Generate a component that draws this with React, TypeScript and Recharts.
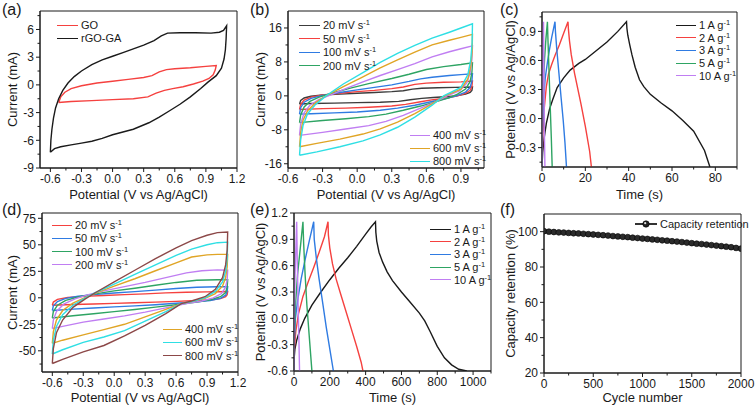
import React from "react";
import { LineChart, Line, XAxis, YAxis, ReferenceArea } from "recharts";

const FONT = '"Liberation Sans", Arial, Helvetica, sans-serif';
const INK = "#1a1a1a";

type Pt = [number, number];

// colours (Origin-like palette)
const C_BLACK = "#1a1a1a";
const C_GRAY = "#3c3c3c";
const C_RED = "#f5413f";
const C_BLUE = "#2f7be2";
const C_GREEN = "#2ea463";
const C_PURPLE = "#c07ef2";
const C_GOLD = "#e0a526";
const C_CYAN = "#2fdfe4";
const C_BROWN = "#8c4848";

// ---------- (a) CV of GO and rGO-GA ----------
const aGO: Pt[] = [
  [-0.52, -1.9], [-0.5, -1.3], [-0.46, -0.8], [-0.4, -0.4], [-0.3, -0.1], [-0.15, 0.2], [0.0, 0.4],
  [0.15, 0.6], [0.3, 0.8], [0.38, 1.0], [0.45, 1.4], [0.52, 1.65], [0.6, 1.75], [0.75, 1.85], [0.9, 2.0],
  [1.0, 2.1], [0.99, 1.6], [0.97, 1.1], [0.93, 0.7], [0.87, 0.4], [0.78, 0.1], [0.68, -0.2], [0.58, -0.4],
  [0.5, -0.6], [0.42, -0.9], [0.34, -1.3], [0.2, -1.5], [0.0, -1.6], [-0.2, -1.7], [-0.4, -1.8], [-0.52, -1.9],
];
const aRGO: Pt[] = [
  [-0.6, -7.3], [-0.595, -6.0], [-0.585, -4.8], [-0.57, -3.6], [-0.55, -2.5], [-0.52, -1.5], [-0.48, -0.6],
  [-0.43, 0.2], [-0.37, 0.9], [-0.3, 1.5], [-0.2, 2.2], [-0.1, 2.7], [0.0, 3.1], [0.1, 3.5], [0.2, 3.9],
  [0.3, 4.3], [0.4, 4.8], [0.47, 5.3], [0.53, 5.6], [0.65, 5.65], [0.8, 5.65], [0.95, 5.6], [1.03, 5.7],
  [1.07, 5.9], [1.1, 6.4], [1.095, 5.0], [1.088, 3.8], [1.075, 2.8], [1.05, 1.8], [1.0, 1.0], [0.92, 0.3],
  [0.85, -0.4], [0.75, -1.3], [0.65, -2.1], [0.55, -2.8], [0.45, -3.5], [0.35, -4.1], [0.2, -4.8],
  [0.1, -5.1], [0.0, -5.4], [-0.1, -5.8], [-0.2, -6.1], [-0.3, -6.3], [-0.4, -6.5], [-0.5, -6.7],
  [-0.56, -6.9], [-0.6, -7.3],
];

// ---------- (b) CV at different scan rates ----------
const b20: Pt[] = [
  [-0.5, -1.9], [-0.49, -1.1], [-0.46, -0.5], [-0.4, -0.1], [-0.3, 0.2], [-0.15, 0.4], [0.0, 0.6], [0.15, 0.8],
  [0.3, 1.0], [0.4, 1.2], [0.48, 1.6], [0.56, 1.8], [0.7, 1.9], [0.85, 2.0], [1.0, 2.1], [0.995, 1.3],
  [0.98, 0.8], [0.94, 0.4], [0.86, 0.0], [0.76, -0.2], [0.66, -0.4], [0.56, -0.6], [0.46, -0.9], [0.36, -1.3],
  [0.2, -1.5], [0.0, -1.6], [-0.2, -1.7], [-0.4, -1.8], [-0.5, -1.9],
];
const b50: Pt[] = [
  [-0.5, -3.2], [-0.49, -2.0], [-0.46, -1.0], [-0.4, -0.3], [-0.3, 0.2], [-0.15, 0.6], [0.0, 1.0], [0.15, 1.3],
  [0.3, 1.7], [0.4, 2.1], [0.5, 2.7], [0.6, 3.0], [0.75, 3.2], [0.9, 3.3], [1.0, 3.5], [0.995, 2.2],
  [0.98, 1.3], [0.94, 0.6], [0.87, 0.0], [0.78, -0.5], [0.66, -0.9], [0.55, -1.4], [0.42, -2.0], [0.3, -2.4],
  [0.1, -2.7], [-0.1, -2.9], [-0.3, -3.0], [-0.5, -3.2],
];
const b100: Pt[] = [
  [-0.5, -4.3], [-0.49, -2.8], [-0.46, -1.5], [-0.4, -0.6], [-0.3, 0.1], [-0.15, 0.8], [0.0, 1.4], [0.15, 2.0],
  [0.3, 2.6], [0.45, 3.4], [0.55, 4.0], [0.65, 4.4], [0.8, 4.8], [0.9, 5.0], [1.0, 5.2], [0.995, 3.5],
  [0.98, 2.0], [0.94, 0.9], [0.86, 0.0], [0.76, -0.7], [0.64, -1.4], [0.5, -2.2], [0.35, -2.9], [0.2, -3.4],
  [0.0, -3.8], [-0.2, -4.0], [-0.4, -4.2], [-0.5, -4.3],
];
const b200: Pt[] = [
  [-0.5, -6.3], [-0.49, -4.5], [-0.46, -2.6], [-0.41, -1.3], [-0.33, -0.3], [-0.2, 0.8], [-0.05, 1.9],
  [0.1, 2.9], [0.3, 4.1], [0.45, 5.1], [0.6, 6.2], [0.75, 6.9], [0.9, 7.4], [1.0, 7.8], [0.995, 5.5],
  [0.98, 3.4], [0.94, 1.6], [0.87, 0.4], [0.8, -0.4], [0.68, -1.4], [0.55, -2.4], [0.4, -3.4], [0.25, -4.3],
  [0.1, -4.9], [-0.1, -5.4], [-0.3, -5.8], [-0.5, -6.3],
];
const b400: Pt[] = [
  [-0.5, -9.3], [-0.49, -6.6], [-0.46, -4.0], [-0.41, -2.2], [-0.33, -0.8], [-0.25, 0.0], [-0.1, 1.7],
  [0.05, 3.3], [0.2, 4.8], [0.35, 6.2], [0.5, 7.6], [0.65, 9.2], [0.8, 10.4], [0.9, 11.1], [1.0, 11.8],
  [0.995, 8.5], [0.98, 5.5], [0.95, 3.0], [0.89, 1.2], [0.78, 0.0], [0.68, -1.4], [0.55, -2.9], [0.4, -4.6],
  [0.25, -6.0], [0.1, -7.0], [-0.1, -7.8], [-0.3, -8.6], [-0.5, -9.3],
];
const b600: Pt[] = [
  [-0.5, -12.0], [-0.49, -8.6], [-0.47, -5.8], [-0.43, -3.5], [-0.36, -1.6], [-0.27, 0.0], [-0.12, 2.2],
  [0.05, 4.5], [0.2, 6.6], [0.35, 8.5], [0.5, 10.3], [0.65, 12.0], [0.8, 13.1], [0.9, 13.8], [1.0, 14.5],
  [0.997, 10.5], [0.985, 7.0], [0.96, 4.0], [0.9, 1.6], [0.76, 0.0], [0.65, -1.9], [0.5, -4.2], [0.35, -6.2],
  [0.2, -7.8], [0.05, -9.0], [-0.15, -10.2], [-0.35, -11.2], [-0.5, -12.0],
];
const b800: Pt[] = [
  [-0.5, -14.0], [-0.49, -10.3], [-0.47, -7.0], [-0.43, -4.2], [-0.36, -2.0], [-0.27, 0.0], [-0.12, 2.8],
  [0.05, 5.5], [0.2, 7.9], [0.35, 10.0], [0.5, 11.9], [0.65, 13.6], [0.8, 15.0], [0.9, 16.0], [1.0, 17.0],
  [0.997, 12.5], [0.985, 8.5], [0.96, 5.0], [0.9, 2.0], [0.75, 0.0], [0.65, -2.2], [0.5, -5.0], [0.35, -7.4],
  [0.2, -9.2], [0.05, -10.6], [-0.15, -12.0], [-0.35, -13.2], [-0.5, -14.0],
];

// ---------- (c) GCD at different current densities ----------
const c1: Pt[] = [
  [0, -0.5], [0.3, -0.35], [1, -0.2], [2, -0.05], [3.5, 0.1], [5, 0.2], [7, 0.32], [10, 0.42], [13, 0.5],
  [17, 0.57], [20, 0.61], [25, 0.7], [30, 0.79], [35, 0.9], [39, 1.0], [39.2, 0.93], [39.6, 0.86],
  [40.5, 0.76], [41.5, 0.66], [43, 0.53], [45, 0.4], [47, 0.33], [50, 0.25], [55, 0.16], [60, 0.08],
  [65, -0.02], [70, -0.13], [75, -0.33], [77.5, -0.5],
];
const c2: Pt[] = [
  [0, -0.5], [0.3, -0.2], [1, 0.1], [2, 0.33], [3, 0.46], [4.5, 0.56], [6, 0.65], [8, 0.76], [10, 0.88],
  [12, 1.0], [12.2, 0.92], [12.7, 0.8], [13.5, 0.66], [15, 0.47], [16.5, 0.31], [18, 0.15], [20, -0.08],
  [22, -0.34], [22.8, -0.5],
];
const c3: Pt[] = [
  [0, -0.5], [0.2, -0.15], [0.7, 0.2], [1.5, 0.42], [2.5, 0.58], [3.5, 0.72], [4.5, 0.84], [6, 1.0],
  [6.2, 0.9], [6.8, 0.72], [7.8, 0.47], [8.8, 0.22], [9.8, -0.02], [10.6, -0.25], [11.3, -0.5],
];
const c5: Pt[] = [
  [0, -0.5], [0.2, 0.0], [0.6, 0.35], [1.2, 0.62], [1.8, 0.82], [2.5, 1.0], [2.8, 0.78], [3.3, 0.45],
  [3.8, 0.12], [4.3, -0.2], [4.7, -0.5],
];
const c10: Pt[] = [
  [0, -0.5], [0.1, 0.0], [0.25, 0.45], [0.45, 0.8], [0.7, 1.0], [0.85, 0.6], [1.0, 0.15], [1.15, -0.2],
  [1.35, -0.5],
];

// ---------- (d) CV at different scan rates ----------
const d20: Pt[] = [
  [-0.6, -7], [-0.59, -4], [-0.55, -1.5], [-0.45, 0.3], [-0.3, 1.3], [-0.1, 2.2], [0.1, 3], [0.3, 3.7],
  [0.5, 4.6], [0.7, 5.3], [0.9, 5.6], [1.1, 6], [1.095, 3], [1.08, 1], [1.03, -0.8], [0.95, -1.8],
  [0.8, -2.6], [0.6, -3.4], [0.4, -4.1], [0.2, -4.7], [0, -5.3], [-0.2, -5.8], [-0.4, -6.3], [-0.6, -7],
];
const d50: Pt[] = [
  [-0.6, -12], [-0.59, -7.5], [-0.55, -3.5], [-0.47, -0.5], [-0.35, 1.5], [-0.2, 3], [0, 4.5], [0.2, 5.8],
  [0.4, 7.2], [0.6, 8.8], [0.8, 10], [1.0, 10.4], [1.1, 10.5], [1.095, 6], [1.08, 2.5], [1.03, -0.5],
  [0.93, -2.5], [0.78, -4], [0.6, -5.2], [0.4, -6.5], [0.2, -7.6], [0, -8.6], [-0.2, -9.6], [-0.4, -10.7],
  [-0.6, -12],
];
const d100: Pt[] = [
  [-0.6, -19], [-0.59, -13], [-0.55, -7], [-0.47, -2.5], [-0.35, 0.8], [-0.2, 3.5], [0, 6.5], [0.2, 9],
  [0.4, 11.8], [0.6, 14.5], [0.8, 16.5], [1.0, 17], [1.1, 17], [1.095, 10], [1.08, 5], [1.03, 1],
  [0.93, -2], [0.8, -4], [0.6, -6.5], [0.4, -8.8], [0.2, -11], [0, -13], [-0.2, -15], [-0.4, -17],
  [-0.6, -19],
];
const d200: Pt[] = [
  [-0.6, -29], [-0.59, -21], [-0.56, -13], [-0.49, -6], [-0.38, -1], [-0.25, 3], [-0.1, 6.5], [0.1, 10.5],
  [0.3, 14.5], [0.5, 19], [0.7, 23.5], [0.85, 25.5], [1.0, 26.3], [1.1, 26], [1.095, 17], [1.08, 10],
  [1.04, 4], [0.96, 0], [0.85, -3], [0.7, -5.5], [0.5, -9.5], [0.3, -13.5], [0.1, -17], [-0.1, -20],
  [-0.3, -23], [-0.5, -27], [-0.6, -29],
];
const d400: Pt[] = [
  [-0.6, -43], [-0.59, -32], [-0.56, -21], [-0.5, -12], [-0.4, -5], [-0.28, 0.5], [-0.18, 4.5], [0, 11],
  [0.2, 18], [0.4, 25.5], [0.6, 33], [0.75, 38.5], [0.9, 40.5], [1.0, 41], [1.1, 41], [1.095, 29],
  [1.08, 19], [1.05, 11], [0.98, 4], [0.88, -0.5], [0.75, -3.5], [0.65, -5.5], [0.5, -11], [0.3, -18],
  [0.1, -25], [-0.1, -30], [-0.3, -35], [-0.5, -40], [-0.6, -43],
];
const d600: Pt[] = [
  [-0.6, -53], [-0.59, -40], [-0.56, -27], [-0.5, -16], [-0.4, -7], [-0.28, 0], [-0.18, 5], [0, 13],
  [0.2, 22], [0.4, 31], [0.6, 40], [0.75, 46], [0.9, 50], [1.0, 52], [1.1, 52.5], [1.095, 37], [1.08, 25],
  [1.05, 15], [0.98, 6], [0.88, 0], [0.75, -3.5], [0.65, -5.5], [0.5, -13], [0.3, -22], [0.1, -31],
  [-0.1, -37], [-0.3, -42], [-0.5, -49], [-0.6, -53],
];
const d800: Pt[] = [
  [-0.6, -62], [-0.59, -48], [-0.56, -33], [-0.5, -21], [-0.4, -9], [-0.28, -1], [-0.18, 5], [0, 15],
  [0.2, 26], [0.4, 37], [0.6, 47], [0.75, 54], [0.9, 59], [1.0, 61.5], [1.1, 62], [1.095, 45], [1.08, 31],
  [1.05, 19], [0.98, 8], [0.88, 1], [0.75, -3], [0.65, -5.5], [0.5, -15], [0.3, -26], [0.1, -36],
  [-0.1, -45], [-0.3, -51], [-0.5, -58], [-0.6, -62],
];

// ---------- (e) GCD at different current densities ----------
const e1: Pt[] = [
  [0, -0.6], [1, -0.45], [5, -0.35], [15, -0.25], [35, -0.12], [60, 0.0], [100, 0.15], [150, 0.3],
  [200, 0.44], [250, 0.57], [300, 0.69], [350, 0.82], [400, 0.96], [430, 1.04], [455, 1.1], [457, 0.98],
  [462, 0.88], [475, 0.75], [495, 0.64], [520, 0.53], [550, 0.43], [600, 0.3], [650, 0.18], [700, 0.06],
  [730, -0.03], [760, -0.15], [800, -0.32], [840, -0.45], [880, -0.53], [920, -0.58], [965, -0.6],
];
const e2: Pt[] = [
  [0, -0.6], [2, -0.35], [10, -0.15], [25, 0.05], [50, 0.25], [80, 0.42], [110, 0.58], [140, 0.75],
  [170, 0.93], [190, 1.1], [192, 0.95], [200, 0.8], [215, 0.62], [235, 0.45], [260, 0.28], [290, 0.08],
  [320, -0.12], [350, -0.32], [375, -0.5], [385, -0.6],
];
const e3: Pt[] = [
  [0, -0.6], [2, -0.25], [8, 0.0], [20, 0.2], [40, 0.45], [60, 0.65], [85, 0.88], [110, 1.1], [113, 0.9],
  [125, 0.68], [140, 0.45], [160, 0.18], [180, -0.1], [200, -0.35], [220, -0.6],
];
const e5: Pt[] = [
  [0, -0.6], [2, -0.2], [8, 0.15], [20, 0.5], [35, 0.8], [50, 1.1], [54, 0.85], [62, 0.5], [72, 0.15],
  [85, -0.2], [100, -0.6],
];
const e10: Pt[] = [
  [0, -0.6], [2, 0.0], [6, 0.5], [15, 1.1], [18, 0.7], [23, 0.15], [27, -0.2], [31, -0.6],
];

// ---------- (f) cycling stability ----------
const fCycles = [
  0, 50, 100, 150, 200, 250, 300, 350, 400, 450, 500, 550, 600, 650, 700, 750, 800, 850, 900, 950, 1000,
  1050, 1100, 1150, 1200, 1250, 1300, 1350, 1400, 1450, 1500, 1550, 1600, 1650, 1700, 1750, 1800, 1850,
  1900, 1950, 2000,
];
const fRetention = [
  100.3, 100.0, 99.8, 99.6, 99.5, 99.3, 99.1, 99.0, 98.8, 98.6, 98.4, 98.2, 98.0, 97.8, 97.5, 97.3, 97.1,
  96.9, 96.6, 96.4, 96.1, 95.9, 95.6, 95.4, 95.1, 94.9, 94.6, 94.4, 94.1, 93.8, 93.5, 93.2, 93.0, 92.7,
  92.4, 92.1, 91.8, 91.5, 91.2, 90.8, 90.4,
];

// ---------- axis ticks ----------
const potMajA = [-0.6, -0.3, 0, 0.3, 0.6, 0.9, 1.2];
const potMinA = [-0.45, -0.15, 0.15, 0.45, 0.75, 1.05];
const curMajA = [-9, -6, -3, 0, 3, 6];
const curMinA = [-7.5, -4.5, -1.5, 1.5, 4.5, 7.5];
const potMajB = [-0.6, -0.3, 0, 0.3, 0.6, 0.9];
const curMajB = [-16, -8, 0, 8, 16];
const curMinB = [-12, -4, 4, 12];
const timeMajC = [0, 20, 40, 60, 80];
const timeMinC = [10, 30, 50, 70, 90];
const potMajC = [-0.3, 0, 0.3, 0.6, 0.9];
const potMinC = [-0.45, -0.15, 0.15, 0.45, 0.75, 1.05];
const curMajD = [-50, -25, 0, 25, 50, 75];
const curMinD = [-62.5, -37.5, -12.5, 12.5, 37.5, 62.5];
const timeMajE = [0, 200, 400, 600, 800, 1000];
const timeMinE = [100, 300, 500, 700, 900, 1100];
const potMajE = [-0.6, -0.3, 0, 0.3, 0.6, 0.9, 1.2];
const cycMajF = [0, 500, 1000, 1500, 2000];
const cycMinF = [250, 750, 1250, 1750];
const retMajF = [20, 40, 60, 80, 100];
const retMinF = [30, 50, 70, 90];

// ---------- legend labels ----------
const scanRates = ["20", "50", "100", "200", "400", "600", "800"];
const currents = ["1", "2", "3", "5", "10"];

const f1 = (v: number) => v.toFixed(1);
const f0 = (v: number) => String(v);
const toRows = (pts: Pt[]) => pts.map(([x, y]) => ({ x, y }));
const isMajor = (list: number[], v: number) => list.some((m) => Math.abs(m - v) < 1e-6);

const tickText = { fontFamily: FONT, fontSize: 12, fill: INK };

function leftTick(majors: number[], fmt: (v: number) => string) {
  return (p: any) => {
    const v = p.payload.value;
    const major = isMajor(majors, v);
    return (
      <g>
        <line x1={p.x} x2={p.x - (major ? 4 : 2.5)} y1={p.y} y2={p.y} stroke={INK} strokeWidth={1} />
        {major && (
          <text x={p.x - 6} y={p.y} dy="0.36em" textAnchor="end" {...tickText}>
            {fmt(v)}
          </text>
        )}
      </g>
    );
  };
}

function bottomTick(majors: number[], fmt: (v: number) => string) {
  return (p: any) => {
    const v = p.payload.value;
    const major = isMajor(majors, v);
    return (
      <g>
        <line x1={p.x} x2={p.x} y1={p.y} y2={p.y + (major ? 4 : 2.5)} stroke={INK} strokeWidth={1} />
        {major && (
          <text x={p.x} y={p.y + 15} textAnchor="middle" {...tickText}>
            {fmt(v)}
          </text>
        )}
      </g>
    );
  };
}

interface Series {
  pts: Pt[];
  color: string;
}

interface PanelProps {
  left: number;
  top: number;
  width: number;
  height: number;
  yAxisW: number;
  xAxisH: number;
  mTop: number;
  mRight: number;
  xDomain: [number, number];
  yDomain: [number, number];
  xMajor: number[];
  xMinor: number[];
  yMajor: number[];
  yMinor: number[];
  xFmt: (v: number) => string;
  yFmt: (v: number) => string;
  xTitle: string;
  yTitle: string;
  yTitleX: number;
  series: Series[];
  dots?: boolean;
}

function Panel(p: PanelProps) {
  const xTicks = [...p.xMajor, ...p.xMinor].sort((a, b) => a - b);
  const yTicks = [...p.yMajor, ...p.yMinor].sort((a, b) => a - b);
  return (
    <div style={{ position: "absolute", left: p.left, top: p.top }}>
      <LineChart width={p.width} height={p.height} margin={{ top: p.mTop, right: p.mRight, left: 0, bottom: 0 }}>
        <XAxis
          type="number"
          dataKey="x"
          domain={p.xDomain}
          allowDataOverflow
          ticks={xTicks}
          interval={0}
          tickSize={0}
          tickMargin={0}
          tick={bottomTick(p.xMajor, p.xFmt)}
          height={p.xAxisH}
          stroke={INK}
          label={{
            value: p.xTitle,
            position: "insideBottom",
            offset: 3,
            fontSize: 13,
            fill: INK,
            fontFamily: FONT,
          }}
        />
        <YAxis
          type="number"
          domain={p.yDomain}
          allowDataOverflow
          ticks={yTicks}
          interval={0}
          tickSize={0}
          tickMargin={0}
          tick={leftTick(p.yMajor, p.yFmt)}
          width={p.yAxisW}
          stroke={INK}
          label={{
            value: p.yTitle,
            angle: -90,
            position: "insideLeft",
            offset: p.yTitleX,
            fontSize: 13,
            fill: INK,
            fontFamily: FONT,
            style: { textAnchor: "middle" },
          }}
        />
        <ReferenceArea
          x1={p.xDomain[0]}
          x2={p.xDomain[1]}
          y1={p.yDomain[0]}
          y2={p.yDomain[1]}
          ifOverflow="visible"
          fill="none"
          fillOpacity={0}
          stroke={INK}
          strokeWidth={1}
        />
        {p.series.map((s, i) => (
          <Line
            key={i}
            data={toRows(s.pts)}
            dataKey="y"
            type="linear"
            stroke={s.color}
            strokeWidth={1.4}
            dot={p.dots ? { r: 2.9, fill: "#2b2b2b", stroke: "#000", strokeWidth: 0.6 } : false}
            activeDot={false}
            isAnimationActive={false}
          />
        ))}
      </LineChart>
    </div>
  );
}

interface KeyItem {
  color: string;
  text: string;
  sup?: string;
}

function KeyBox({ x, y, step, lineW, items }: { x: number; y: number; step: number; lineW: number; items: KeyItem[] }) {
  return (
    <>
      {items.map((it, i) => (
        <div
          key={i}
          style={{
            position: "absolute",
            left: x,
            top: y + i * step - 7,
            height: 14,
            display: "flex",
            alignItems: "center",
            fontFamily: FONT,
            fontSize: 11,
            color: INK,
            whiteSpace: "nowrap",
          }}
        >
          <span style={{ display: "inline-block", width: lineW, borderTop: `1.6px solid ${it.color}`, marginRight: 3 }} />
          <span>
            {it.text}
            {it.sup && <span style={{ fontSize: 7.5, position: "relative", top: -4 }}>{it.sup}</span>}
          </span>
        </div>
      ))}
    </>
  );
}

function Tag({ x, y, text }: { x: number; y: number; text: string }) {
  return (
    <div style={{ position: "absolute", left: x, top: y, fontFamily: FONT, fontSize: 16, lineHeight: "18px", color: INK }}>
      {text}
    </div>
  );
}

const POT = "Potential (V vs Ag/AgCl)";

export default function App() {
  const bColors = [C_GRAY, C_RED, C_BLUE, C_GREEN, C_PURPLE, C_GOLD, C_CYAN];
  const dColors = [C_RED, C_BLUE, C_GREEN, C_PURPLE, C_GOLD, C_CYAN, C_BROWN];
  const gColors = [C_BLACK, C_RED, C_BLUE, C_GREEN, C_PURPLE];
  const bSets = [b20, b50, b100, b200, b400, b600, b800];
  const dSets = [d20, d50, d100, d200, d400, d600, d800];
  const cSets = [c1, c2, c3, c5, c10];
  const eSets = [e1, e2, e3, e5, e10];
  const rateItems = (cols: string[]) =>
    scanRates.map((r, i) => ({ color: cols[i], text: `${r} mV s`, sup: "-1" }));
  const curItems = currents.map((c, i) => ({ color: gColors[i], text: `${c} A g`, sup: "-1" }));
  const fPts: Pt[] = fCycles.map((c, i) => [c, fRetention[i]]);

  return (
    <div style={{ position: "absolute", left: 0, top: 0, width: 756, height: 405, background: "#fff", overflow: "hidden" }}>
      {/* (a) */}
      <Panel
        left={0} top={0} width={252} height={202} yAxisW={40} xAxisH={34} mTop={11} mRight={15}
        xDomain={[-0.7, 1.2]} yDomain={[-9, 8]}
        xMajor={potMajA} xMinor={potMinA} yMajor={curMajA} yMinor={curMinA}
        xFmt={f1} yFmt={f0} xTitle={POT} yTitle="Current (mA)" yTitleX={12}
        series={[{ pts: aGO, color: C_RED }, { pts: aRGO, color: C_BLACK }]}
      />
      {/* (b) */}
      <Panel
        left={250} top={0} width={252} height={202} yAxisW={38} xAxisH={34} mTop={11} mRight={18}
        xDomain={[-0.6, 1.1]} yDomain={[-17, 20]}
        xMajor={potMajB} xMinor={potMinA} yMajor={curMajB} yMinor={curMinB}
        xFmt={f1} yFmt={f0} xTitle={POT} yTitle="Current (mA)" yTitleX={10}
        series={bSets.map((pts, i) => ({ pts, color: bColors[i] }))}
      />
      {/* (c) */}
      <Panel
        left={500} top={0} width={256} height={202} yAxisW={42} xAxisH={35} mTop={12} mRight={19}
        xDomain={[0, 90]} yDomain={[-0.5, 1.1]}
        xMajor={timeMajC} xMinor={timeMinC} yMajor={potMajC} yMinor={potMinC}
        xFmt={f0} yFmt={f1} xTitle="Time (s)" yTitle={POT} yTitleX={10}
        series={cSets.map((pts, i) => ({ pts, color: gColors[i] }))}
      />
      {/* (d) */}
      <Panel
        left={0} top={202} width={252} height={203} yAxisW={42} xAxisH={33} mTop={11} mRight={14}
        xDomain={[-0.7, 1.2]} yDomain={[-70, 80]}
        xMajor={potMajA} xMinor={potMinA} yMajor={curMajD} yMinor={curMinD}
        xFmt={f1} yFmt={f0} xTitle={POT} yTitle="Current (mA)" yTitleX={12}
        series={dSets.map((pts, i) => ({ pts, color: dColors[i] }))}
      />
      {/* (e) */}
      <Panel
        left={250} top={202} width={252} height={203} yAxisW={44} xAxisH={34} mTop={11} mRight={11}
        xDomain={[0, 1100]} yDomain={[-0.6, 1.2]}
        xMajor={timeMajE} xMinor={timeMinE} yMajor={potMajE} yMinor={potMinA}
        xFmt={f0} yFmt={f1} xTitle="Time (s)" yTitle={POT} yTitleX={10}
        series={eSets.map((pts, i) => ({ pts, color: gColors[i] }))}
      />
      {/* (f) */}
      <Panel
        left={500} top={202} width={256} height={203} yAxisW={44} xAxisH={32} mTop={12} mRight={15}
        xDomain={[0, 2000]} yDomain={[20, 110]}
        xMajor={cycMajF} xMinor={cycMinF} yMajor={retMajF} yMinor={retMinF}
        xFmt={f0} yFmt={f0} xTitle="Cycle number" yTitle="Capacity retention (%)" yTitleX={10}
        series={[{ pts: fPts, color: "#000" }]} dots
      />

      <Tag x={2} y={1} text="(a)" />
      <Tag x={250} y={1} text="(b)" />
      <Tag x={500} y={1} text="(c)" />
      <Tag x={2} y={201} text="(d)" />
      <Tag x={250} y={201} text="(e)" />
      <Tag x={500} y={201} text="(f)" />

      <KeyBox x={57} y={25} step={13} lineW={21} items={[{ color: C_RED, text: "GO" }, { color: C_BLACK, text: "rGO-GA" }]} />
      <KeyBox x={299} y={25} step={13.5} lineW={21} items={rateItems(bColors).slice(0, 4)} />
      <KeyBox x={410} y={135} step={13} lineW={20} items={rateItems(bColors).slice(4)} />
      <KeyBox x={676} y={25} step={12.7} lineW={20} items={curItems} />
      <KeyBox x={52} y={225} step={13.3} lineW={20} items={rateItems(dColors).slice(0, 4)} />
      <KeyBox x={163} y={329} step={13.3} lineW={19} items={rateItems(dColors).slice(4)} />
      <KeyBox x={430} y={229} step={12.7} lineW={21} items={curItems} />

      {/* (f) legend with marker */}
      <div
        style={{
          position: "absolute", left: 635, top: 217, height: 14, display: "flex", alignItems: "center",
          fontFamily: FONT, fontSize: 11, color: INK, whiteSpace: "nowrap",
        }}
      >
        <svg width={22} height={8} style={{ marginRight: 3 }}>
          <line x1={0} x2={22} y1={4} y2={4} stroke="#000" strokeWidth={1.6} />
          <circle cx={11} cy={4} r={3.2} fill="#222" stroke="#000" strokeWidth={0.6} />
          <circle cx={10.2} cy={3.2} r={1.1} fill="#ddd" />
        </svg>
        <span>Capacity retention</span>
      </div>
    </div>
  );
}
